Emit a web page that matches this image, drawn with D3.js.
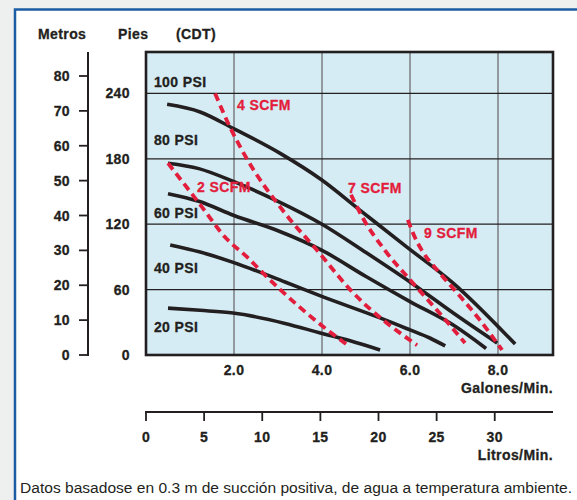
<!DOCTYPE html>
<html>
<head>
<meta charset="utf-8">
<script src="https://cdn.jsdelivr.net/npm/d3@7"></script>
<style>
  html, body { margin: 0; padding: 0; background: #eeefef; }
  svg { display: block; }
  text { font-family: "Liberation Sans", Arial, sans-serif; font-weight: bold; font-size: 14px; letter-spacing: 0.4px; fill: #231f20; stroke: #231f20; stroke-width: 0.3px; }
</style>
</head>
<body>
<div id="chart"></div>
<script>
// axis values
const gpmTicks = [2, 4, 6, 8];
const gpmLabels = ["2.0", "4.0", "6.0", "8.0"];
const feetTicks = [0, 60, 120, 180, 240];
const meterTicks = [0, 10, 20, 30, 40, 50, 60, 70, 80];
const literTicks = [0, 5, 10, 15, 20, 25, 30];

// pump curves: [gallons/min, feet]
const psi100 = [[0.48, 230], [1.23, 223], [1.98, 208], [3.05, 185], [3.98, 161], [4.86, 133], [5.93, 99], [6.98, 66], [8.39, 10]];
const psi80 = [[0.5, 176], [1.2, 171], [2.0, 159], [3.0, 141], [4.0, 120], [5.0, 94], [6.0, 67], [7.0, 38], [7.98, 11]];
const psi60 = [[0.5, 148], [1.2, 141], [2.0, 128], [3.0, 114], [4.0, 96], [5.0, 72], [6.0, 49], [7.0, 27], [7.73, 6]];
const psi40 = [[0.55, 101], [1.23, 94.5], [1.98, 85], [3.16, 67], [3.98, 54], [5.32, 34], [6.0, 23], [6.45, 15.6], [6.8, 8.3]];
const psi20 = [[0.5, 43], [1.23, 41], [1.98, 38.5], [3.16, 29], [3.98, 20], [4.64, 13], [5.32, 4.6]];

// air consumption curves
const scfm2 = [[0.5, 176], [1.23, 138], [1.8, 108], [2.32, 89], [2.59, 78], [3.05, 60], [3.98, 27.5], [4.64, 7.3]];
const scfm4 = [[1.57, 240], [1.91, 209], [2.18, 188], [3.16, 130], [3.89, 96], [4.64, 60], [6.16, 9]];
const scfm7 = [[4.66, 147], [4.91, 127], [5.43, 96], [6.0, 69], [6.68, 38], [7.25, 11]];
const scfm9 = [[5.95, 124], [6.11, 108], [6.27, 96], [6.68, 75], [7.07, 57], [7.59, 32], [8.09, 4.6]];

const psiNames = ["100 PSI", "80 PSI", "60 PSI", "40 PSI", "20 PSI"];
const scfmNames = ["2 SCFM", "4 SCFM", "7 SCFM", "9 SCFM"];

const width = 577, height = 500;
const red = "#e31d3c";

const svg = d3.select("#chart").append("svg")
    .attr("width", width)
    .attr("height", height);

// white panel with blue frame
svg.append("rect")
    .attr("x", 15).attr("y", 9.5)
    .attr("width", 600).attr("height", 520)
    .style("fill", "#fff")
    .style("stroke", "#1b5ca4")
    .style("stroke-width", 2.5);

const x = d3.scaleLinear().domain([0, 9.25]).range([146, 553]);
const y = d3.scaleLinear().domain([0, 278]).range([355, 52]);
const yM = d3.scaleLinear().domain([0, 80]).range([355, 76]);

// plot background
svg.append("rect")
    .attr("x", x(0)).attr("y", y(278))
    .attr("width", x(9.25) - x(0)).attr("height", y(0) - y(278))
    .style("fill", "#d5ecf4");

// grid
svg.append("g").selectAll("line").data(gpmTicks).join("line")
    .attr("x1", d => x(d)).attr("x2", d => x(d))
    .attr("y1", y(278)).attr("y2", y(0))
    .style("stroke", "#6d6e70").style("stroke-width", 1.3);
svg.append("g").selectAll("line").data(feetTicks.slice(1)).join("line")
    .attr("x1", x(0)).attr("x2", x(9.25))
    .attr("y1", d => y(d)).attr("y2", d => y(d))
    .style("stroke", "#231f20").style("stroke-width", 1.2);

// curves
const line = d3.line()
    .x(d => x(d[0]))
    .y(d => y(d[1]))
    .curve(d3.curveMonotoneX);

svg.append("g").selectAll("path").data([psi100, psi80, psi60, psi40, psi20]).join("path")
    .attr("d", line)
    .style("fill", "none")
    .style("stroke", "#231f20")
    .style("stroke-width", 3.6);

svg.append("g").selectAll("path").data([scfm2, scfm4, scfm7, scfm9]).join("path")
    .attr("d", line)
    .style("fill", "none")
    .style("stroke", red)
    .style("stroke-width", 3.8)
    .style("stroke-dasharray", "8,5");

// plot frame
svg.append("rect")
    .attr("x", x(0)).attr("y", y(278))
    .attr("width", x(9.25) - x(0)).attr("height", y(0) - y(278))
    .style("fill", "none")
    .style("stroke", "#231f20")
    .style("stroke-width", 2.6);

// curve labels (anchor in gpm / feet)
const psiLabelFt = [246, 193, 126, 75, 21];
svg.append("g").selectAll("text").data(psiNames).join("text")
    .attr("x", x(0.18))
    .attr("y", (d, i) => y(psiLabelFt[i]))
    .text(d => d);

const scfmLabelPos = [[1.16, 150], [2.07, 225], [4.59, 149], [6.32, 107]];
svg.append("g").selectAll("text").data(scfmNames).join("text")
    .attr("x", (d, i) => x(scfmLabelPos[i][0]))
    .attr("y", (d, i) => y(scfmLabelPos[i][1]))
    .style("fill", red)
    .style("stroke", red)
    .text(d => d);

// feet labels
svg.append("g").selectAll("text").data(feetTicks).join("text")
    .attr("x", 130)
    .attr("y", d => y(d) + 5)
    .attr("text-anchor", "end")
    .text(d => d);

// meters axis
const mAxis = svg.append("g");
mAxis.append("line")
    .attr("x1", 88).attr("x2", 88)
    .attr("y1", y(278)).attr("y2", y(0) + 1)
    .style("stroke", "#231f20").style("stroke-width", 2);
mAxis.selectAll(".tick").data(meterTicks).join("line")
    .attr("x1", 79).attr("x2", 88)
    .attr("y1", d => yM(d)).attr("y2", d => yM(d))
    .style("stroke", "#231f20").style("stroke-width", 1.8);
mAxis.selectAll("text").data(meterTicks).join("text")
    .attr("x", 70)
    .attr("y", d => yM(d) + 5)
    .attr("text-anchor", "end")
    .text(d => d);

// header
svg.append("text").attr("x", 38).attr("y", 39).text("Metros");
svg.append("text").attr("x", 118).attr("y", 39).text("Pies");
svg.append("text").attr("x", 176).attr("y", 39).text("(CDT)");

// gallons labels
svg.append("g").selectAll("text").data(gpmTicks).join("text")
    .attr("x", d => x(d))
    .attr("y", 375)
    .attr("text-anchor", "middle")
    .text((d, i) => gpmLabels[i]);
svg.append("text")
    .attr("x", 553).attr("y", 393)
    .attr("text-anchor", "end")
    .text("Galones/Min.");

// liters axis (same scale, converted)
const lx = l => x(l / 3.785);
const lAxis = svg.append("g");
lAxis.append("line")
    .attr("x1", x(0) - 1).attr("x2", x(9.25))
    .attr("y1", 412).attr("y2", 412)
    .style("stroke", "#231f20").style("stroke-width", 2);
lAxis.selectAll(".tick").data(literTicks).join("line")
    .attr("x1", d => lx(d)).attr("x2", d => lx(d))
    .attr("y1", 412).attr("y2", 421)
    .style("stroke", "#231f20").style("stroke-width", 1.8);
lAxis.selectAll("text").data(literTicks).join("text")
    .attr("x", d => lx(d))
    .attr("y", 442)
    .attr("text-anchor", "middle")
    .text(d => d);
svg.append("text")
    .attr("x", 553).attr("y", 460)
    .attr("text-anchor", "end")
    .text("Litros/Min.");

// footnote
svg.append("text")
    .attr("x", 20).attr("y", 493)
    .attr("textLength", 552)
    .attr("lengthAdjust", "spacingAndGlyphs")
    .style("font-family", "'Liberation Sans', Arial, sans-serif")
    .style("font-weight", "normal")
    .style("letter-spacing", "0px")
    .style("stroke", "none")
    .style("font-size", "15.5px")
    .text("Datos basadose en 0.3 m de succión positiva, de agua a temperatura ambiente.");
</script>
</body>
</html>
